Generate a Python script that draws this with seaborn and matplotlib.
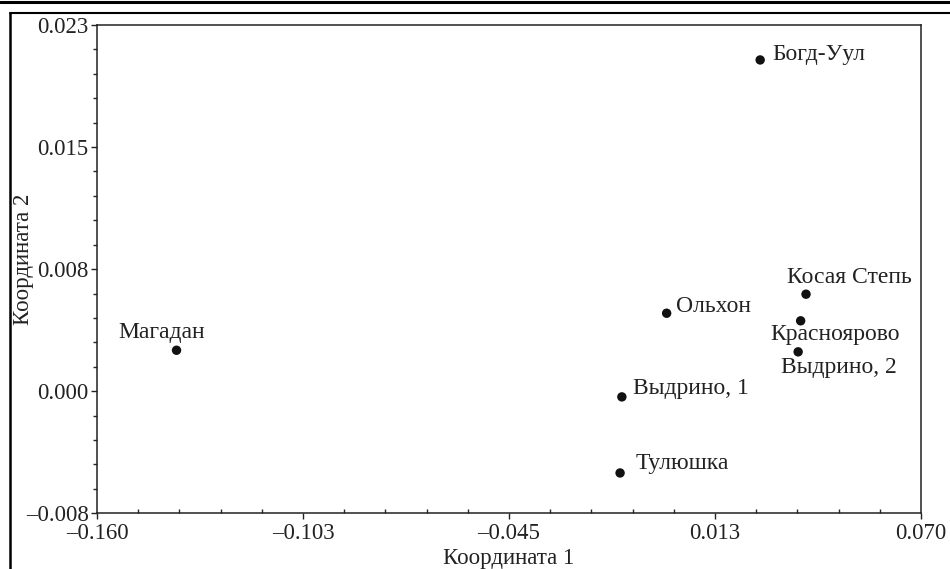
import pandas as pd
import matplotlib
matplotlib.use("Agg")
import matplotlib.pyplot as plt
import seaborn as sns
from matplotlib.lines import Line2D
from matplotlib.ticker import AutoMinorLocator

# population coordinates
names = ["Магадан", "Богд-Уул", "Ольхон", "Косая Степь", "Красноярово",
         "Выдрино, 2", "Выдрино, 1", "Тулюшка"]
coord1 = [-0.1378, 0.0251, -0.0010, 0.0379, 0.0364, 0.0357, -0.0135, -0.0140]
coord2 = [0.00235, 0.02078, 0.0047, 0.00591, 0.00422, 0.00225, -0.00061, -0.00544]

xticks = [-0.160, -0.1025, -0.045, 0.0125, 0.070]
xticklabels = ["\u20130.160", "\u20130.103", "\u20130.045", "0.013", "0.070"]
yticks = [-0.008, -0.00025, 0.0075, 0.01525, 0.023]
yticklabels = ["\u20130.008", "0.000", "0.008", "0.015", "0.023"]

# label offsets in points (dx, dy, ha)
offsets = {
    "Магадан": (-11, 9, "center"),
    "Богд-Уул": (9, 0, "left"),
    "Ольхон": (7, 1, "left"),
    "Косая Степь": (31, 8, "center"),
    "Красноярово": (25, -14, "center"),
    "Выдрино, 2": (29, -15, "center"),
    "Выдрино, 1": (8, 2, "left"),
    "Тулюшка": (11, 3, "left"),
}

df = pd.DataFrame({"name": names, "x": coord1, "y": coord2})

sns.set_style("ticks")
plt.rcParams["font.family"] = ["Liberation Serif", "DejaVu Serif"]
plt.rcParams["font.size"] = 16.5

fig = plt.figure(figsize=(9.5, 5.69), dpi=100)
ax = fig.add_axes([0.1021, 0.0979, 0.8674, 0.8582])

sns.scatterplot(data=df, x="x", y="y", color="#111111", s=46,
                edgecolor="none", ax=ax, zorder=3)

for n, xv, yv in zip(names, coord1, coord2):
    dx, dy, ha = offsets[n]
    ax.annotate(n, (xv, yv), xytext=(dx, dy), textcoords="offset points",
                ha=ha, va="baseline", fontsize=17, color="#222222")

ax.set_xlim(-0.160, 0.070)
ax.set_ylim(-0.008, 0.023)
ax.set_xticks(xticks)
ax.set_xticklabels(xticklabels)
ax.set_yticks(yticks)
ax.set_yticklabels(yticklabels)
ax.xaxis.set_minor_locator(AutoMinorLocator(5))
ax.yaxis.set_minor_locator(AutoMinorLocator(5))
ax.tick_params(axis="x", which="major", direction="out", length=4, width=1, pad=3, colors="#222222")
ax.tick_params(axis="x", which="minor", direction="in", length=3, width=1)
ax.tick_params(axis="y", which="major", direction="out", length=4, width=1, pad=2, colors="#222222")
ax.tick_params(axis="y", which="minor", direction="out", length=3, width=1)
for sp in ax.spines.values():
    sp.set_visible(True)
    sp.set_linewidth(1.1)
    sp.set_color("#222222")

ax.set_xlabel("Координата 1", fontsize=16.5, color="#222222", labelpad=3)
ax.set_ylabel("Координата 2", fontsize=16.5, color="#222222")
ax.yaxis.set_label_coords(-0.077, 0.52)

# page frame lines around the figure
fig.add_artist(Line2D([0, 1], [1 - 1.5 / 569, 1 - 1.5 / 569], color="black", lw=2.2, transform=fig.transFigure))
fig.add_artist(Line2D([10 / 950, 1], [1 - 13.3 / 569, 1 - 13.3 / 569], color="black", lw=1.5, transform=fig.transFigure))
fig.add_artist(Line2D([10 / 950, 10 / 950], [0, 1 - 13.3 / 569], color="black", lw=1.8, transform=fig.transFigure))

fig.savefig("out.png", dpi=100)
